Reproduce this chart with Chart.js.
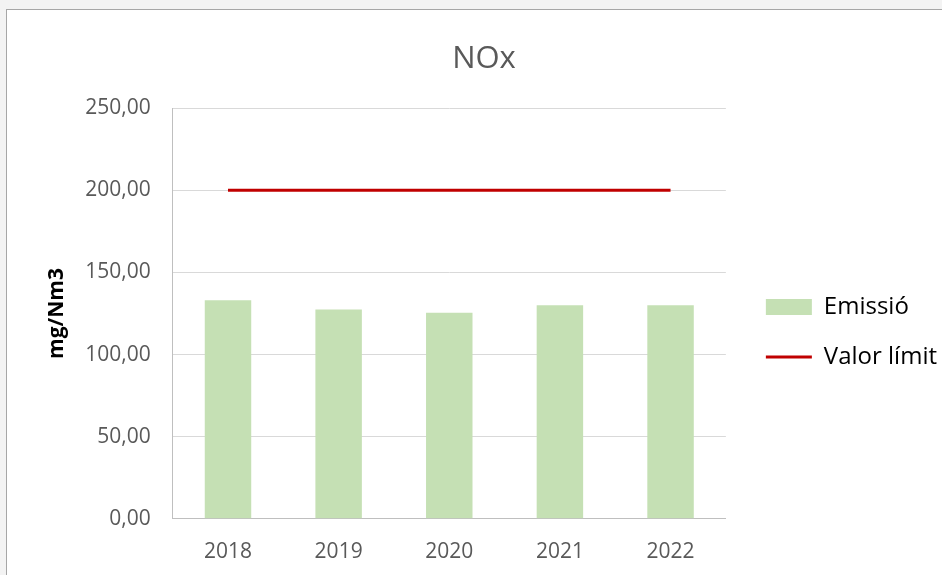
<!DOCTYPE html>
<html>
<head>
<meta charset="utf-8">
<script src="https://cdn.jsdelivr.net/npm/chart.js@4/dist/chart.umd.min.js"></script>
<style>
  body { margin: 0; background: #f3f3f3; overflow: hidden; }
  #frame { position: absolute; left: 6px; top: 9px; width: 1000px; height: 620px;
           background: #fff; border-left: 1px solid #a6a6a6; border-top: 1px solid #a6a6a6; }
  #nox__Chart { position: absolute; left: 0; top: 0; }
</style>
</head>
<body>
<div id="frame"><canvas id="nox__Chart" width="962" height="580"></canvas></div>
<script>
// Values
const years = ['2018', '2019', '2020', '2021', '2022'];
const emissio = [133, 127.5, 125.5, 130, 130];
const valorLimit = [200, 200, 200, 200, 200];
const yTicks = { min: 0, max: 250, step: 50 };

Chart.defaults.font.family = "'Open Sans', 'Noto Sans', sans-serif";
Chart.defaults.color = '#595959';

// push the legend a bit away from the plot area
const legendGap = {
  id: 'legendGap',
  afterLayout(chart) {
    chart.legend.left += 14;
    chart.legend.right += 14;
  }
};

const ctx = document.getElementById('nox__Chart').getContext('2d');
const noxChart = new Chart(ctx, {
  type: 'bar',
  data: {
    labels: years,
    datasets: [
      {
        type: 'line',
        label: 'Valor límit',
        data: valorLimit,
        borderColor: '#c00000',
        backgroundColor: '#c00000',
        borderWidth: 3,
        pointRadius: 0,
        pointStyle: 'line',
        order: 0
      },
      {
        label: 'Emissió',
        data: emissio,
        backgroundColor: '#c5e0b4',
        categoryPercentage: 1,
        barPercentage: 0.42,
        pointStyle: 'rect',
        order: 1
      }
    ]
  },
  plugins: [legendGap],
  options: {
    responsive: false,
    animation: false,
    layout: { padding: { left: 28, right: 36, top: 0, bottom: 4 } },
    scales: {
      x: {
        grid: { display: false, drawTicks: false },
        border: { display: true, color: '#bfbfbf' },
        ticks: { font: { size: 21 }, padding: 21 }
      },
      y: {
        min: yTicks.min,
        max: yTicks.max,
        grid: { color: '#d9d9d9', drawTicks: false },
        border: { display: true, color: '#bfbfbf' },
        ticks: {
          stepSize: yTicks.step,
          font: { size: 21 },
          padding: 22,
          callback: v => v.toFixed(2).replace('.', ',')
        },
        title: {
          display: true,
          text: 'mg/Nm3',
          color: '#000',
          font: { size: 21, weight: 'bold' },
          padding: { top: 9, bottom: -6 }
        }
      }
    },
    plugins: {
      title: {
        display: true,
        text: 'NOx',
        color: '#595959',
        font: { size: 31, weight: 'normal' },
        padding: { top: 31, bottom: 30 }
      },
      legend: {
        position: 'right',
        reverse: true,
        title: { display: true, text: ' ', font: { size: 10 }, padding: { top: 28, bottom: 28 } },
        labels: {
          usePointStyle: true,
          pointStyleWidth: 46,
          boxHeight: 16,
          padding: 26,
          color: '#000',
          font: { size: 24 }
        }
      },
      tooltip: { enabled: false }
    }
  }
});
</script>
</body>
</html>
